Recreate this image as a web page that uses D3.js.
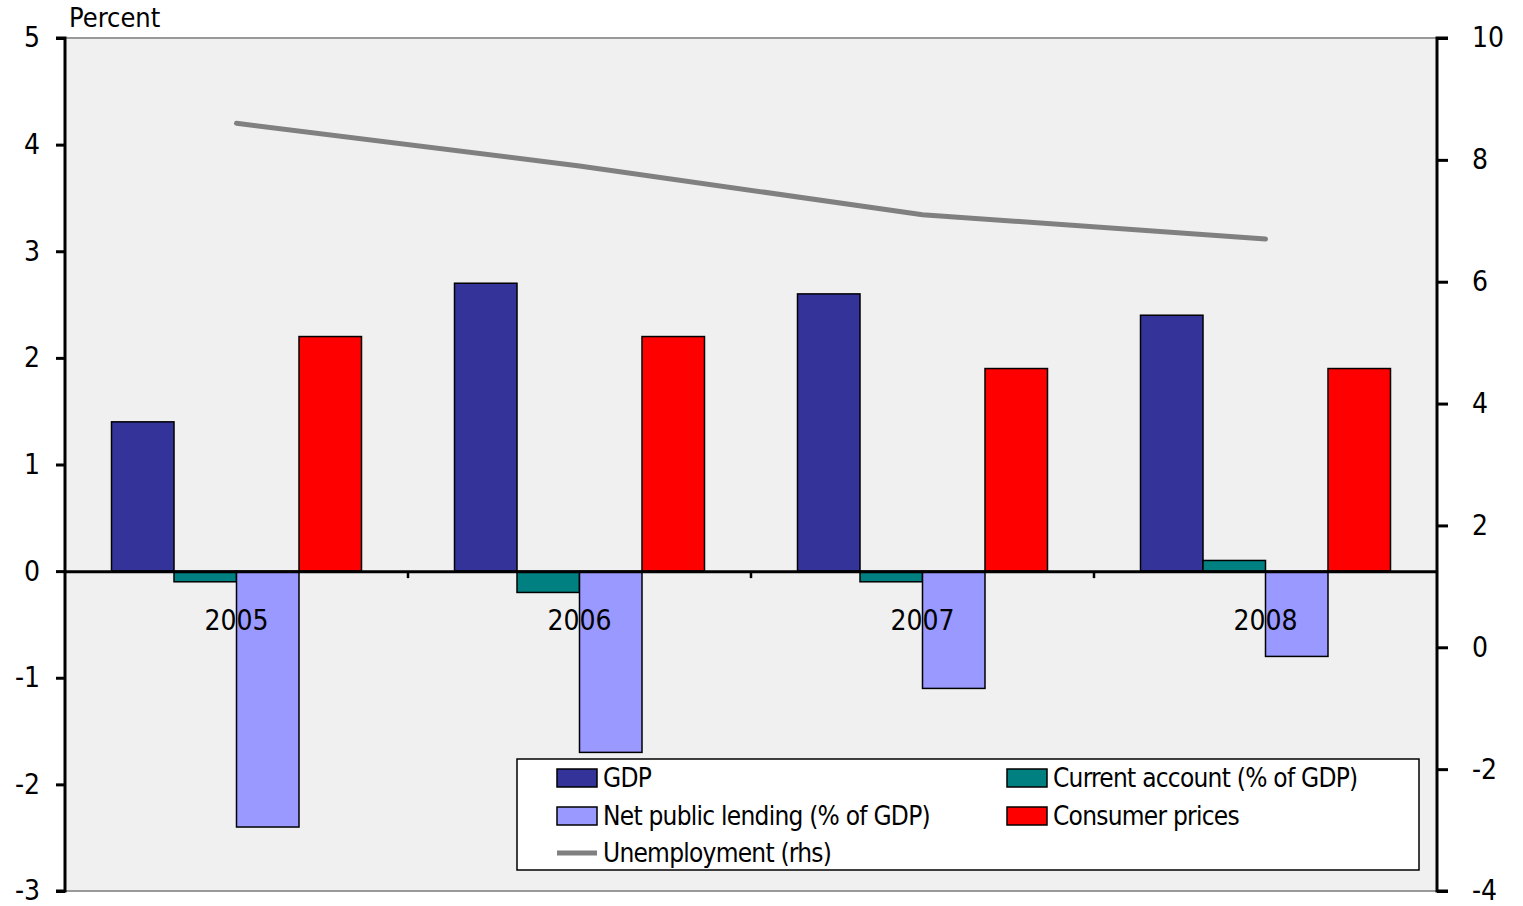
<!DOCTYPE html>
<html>
<head>
<meta charset="utf-8">
<script src="https://cdn.jsdelivr.net/npm/d3@7"></script>
<style>
  body { margin: 0; background: #fff; }
  text { font-family: "DejaVu Sans Condensed", "DejaVu Sans", sans-serif; fill: #000; }
</style>
</head>
<body>
<svg id="chart" width="1523" height="906"></svg>
<script>
const years = ['2005', '2006', '2007', '2008'];
const gdp = [1.4, 2.7, 2.6, 2.4];
const currentAccount = [-0.1, -0.2, -0.1, 0.1];
const netLending = [-2.4, -1.7, -1.1, -0.8];
const consumerPrices = [2.2, 2.2, 1.9, 1.9];
const unemployment = [8.6, 7.9, 7.1, 6.7];
const leftTicks = [5, 4, 3, 2, 1, 0, -1, -2, -3];
const rightTicks = [10, 8, 6, 4, 2, 0, -2, -4];

const barSeries = [
  { name: 'GDP', values: gdp, color: '#333399' },
  { name: 'Current account (% of GDP)', values: currentAccount, color: '#008080' },
  { name: 'Net public lending (% of GDP)', values: netLending, color: '#9999ff' },
  { name: 'Consumer prices', values: consumerPrices, color: '#ff0000' }
];

const svg = d3.select('#chart');
const plotL = 65, plotR = 1437, plotT = 38, plotB = 891;

const x = d3.scaleBand().domain(years).range([plotL, plotR]);
const yL = d3.scaleLinear().domain([-3, 5]).range([plotB, plotT]);
const yR = d3.scaleLinear().domain([-4, 10]).range([plotB, plotT]);
const hyphenFmt = d => String(d); // plain hyphen, not unicode minus

// plot background
svg.append('rect')
  .attr('x', plotL).attr('y', plotT)
  .attr('width', plotR - plotL).attr('height', plotB - plotT)
  .attr('fill', '#f0f0f0');
svg.append('line').attr('x1', plotL).attr('x2', plotR).attr('y1', plotT).attr('y2', plotT)
  .attr('stroke', '#999').attr('stroke-width', 2);
svg.append('line').attr('x1', plotL).attr('x2', plotR).attr('y1', plotB).attr('y2', plotB)
  .attr('stroke', '#999').attr('stroke-width', 2);

// bars
const groupW = 250;
const bx = d3.scaleBand().domain(d3.range(barSeries.length))
  .range([0, groupW]);

barSeries.forEach((s, i) => {
  svg.append('g').selectAll('rect')
    .data(s.values)
    .join('rect')
    .attr('x', (d, j) => x(years[j]) + x.bandwidth() / 2 - groupW / 2 + bx(i))
    .attr('width', bx.bandwidth())
    .attr('y', d => yL(Math.max(0, d)))
    .attr('height', d => Math.abs(yL(d) - yL(0)))
    .attr('fill', s.color)
    .attr('stroke', '#000')
    .attr('stroke-width', 1.5);
});

// unemployment line
svg.append('path')
  .datum(unemployment)
  .attr('d', d3.line()
    .x((d, j) => x(years[j]) + x.bandwidth() / 2)
    .y(d => yR(d)))
  .attr('fill', 'none')
  .attr('stroke', '#808080')
  .attr('stroke-width', 5)
  .attr('stroke-linecap', 'round');

// zero line with category ticks
const xAxis = svg.append('g')
  .attr('transform', `translate(0,${yL(0)})`)
  .call(d3.axisBottom(x).tickSize(0).tickFormat(''));
xAxis.select('.domain').attr('stroke', '#000').attr('stroke-width', 3);
xAxis.selectAll('.sep')
  .data(years.slice(1))
  .join('line')
  .attr('x1', d => x(d)).attr('x2', d => x(d))
  .attr('y1', 0).attr('y2', 7)
  .attr('stroke', '#000').attr('stroke-width', 2.5);

// year labels
svg.append('g').selectAll('text')
  .data(years)
  .join('text')
  .attr('x', d => x(d) + x.bandwidth() / 2)
  .attr('y', yL(0) + 59)
  .attr('text-anchor', 'middle')
  .style('font-size', '28px')
  .text(d => d);

// left axis
const axL = svg.append('g')
  .attr('transform', `translate(${plotL},0)`)
  .call(d3.axisLeft(yL).tickValues(leftTicks).tickSize(9).tickPadding(16).tickFormat(hyphenFmt));
axL.select('.domain').attr('stroke', '#000').attr('stroke-width', 3).attr('d', `M-9,${plotT}H0V${plotB}H-9`);
axL.selectAll('.tick line').attr('stroke', '#000').attr('stroke-width', 3);
axL.selectAll('.tick text').style('font-size', '28px').style('font-family', '"DejaVu Sans Condensed", sans-serif').attr('fill', '#000');

// right axis
const axR = svg.append('g')
  .attr('transform', `translate(${plotR},0)`)
  .call(d3.axisRight(yR).tickValues(rightTicks).tickSize(11).tickPadding(24).tickFormat(hyphenFmt));
axR.select('.domain').attr('stroke', '#000').attr('stroke-width', 3).attr('d', `M11,${plotT}H0V${plotB}H11`);
axR.selectAll('.tick line').attr('stroke', '#000').attr('stroke-width', 3);
axR.selectAll('.tick text').style('font-size', '28px').style('font-family', '"DejaVu Sans Condensed", sans-serif').attr('fill', '#000');

// axis title
svg.append('text')
  .attr('x', 69).attr('y', 27)
  .style('font-size', '27px')
  .text('Percent');

// legend
const legend = svg.append('g').attr('transform', 'translate(517,759)');
legend.append('rect')
  .attr('width', 902).attr('height', 111)
  .attr('fill', '#fff').attr('stroke', '#000').attr('stroke-width', 1.5);

const legendItems = [
  { name: 'GDP', color: '#333399', type: 'rect', col: 0, row: 0 },
  { name: 'Current account (% of GDP)', color: '#008080', type: 'rect', col: 1, row: 0 },
  { name: 'Net public lending (% of GDP)', color: '#9999ff', type: 'rect', col: 0, row: 1 },
  { name: 'Consumer prices', color: '#ff0000', type: 'rect', col: 1, row: 1 },
  { name: 'Unemployment (rhs)', color: '#808080', type: 'line', col: 0, row: 2 }
];
const colX = [40, 490];
const rowY = [19, 57, 94];

const li = legend.selectAll('.item')
  .data(legendItems)
  .join('g')
  .attr('transform', d => `translate(${colX[d.col]},${rowY[d.row]})`);

li.filter(d => d.type === 'rect').append('rect')
  .attr('x', 0).attr('y', -9).attr('width', 40).attr('height', 18)
  .attr('fill', d => d.color).attr('stroke', '#000').attr('stroke-width', 1.5);
li.filter(d => d.type === 'line').append('line')
  .attr('x1', 0).attr('x2', 40).attr('y1', 0).attr('y2', 0)
  .attr('stroke', d => d.color).attr('stroke-width', 5);
li.append('text')
  .attr('x', 46).attr('y', 9)
  .style('font-size', '26px')
  .style('letter-spacing', '-0.75px')
  .text(d => d.name);
</script>
</body>
</html>
